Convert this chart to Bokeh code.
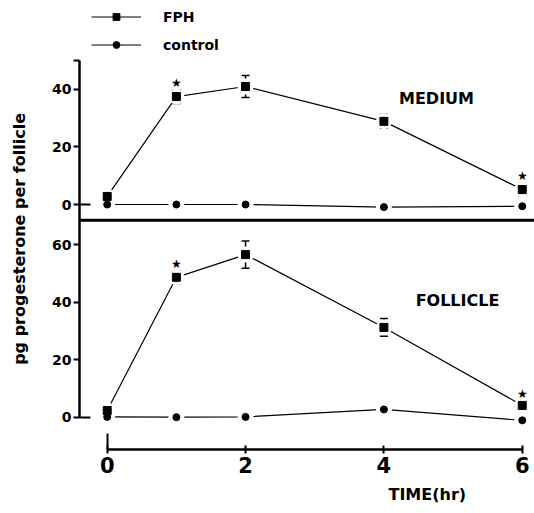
import numpy as np
from bokeh.plotting import figure
from bokeh.models import (Range1d, LinearAxis, FixedTicker, ColumnDataSource, Whisker,
                          TeeHead, Span, Label, Legend, LegendItem, Title)
from bokeh.core.properties import value
from bokeh.embed import file_html
from bokeh.resources import INLINE

# ---------------- data ----------------
hours = [0, 1, 2, 4, 6]
medium_fph = [2.8, 37.5, 41.0, 28.9, 5.2]
medium_fph_err = [0.0, 2.4, 3.8, 2.4, 2.2]
medium_control = [0.0, 0.0, 0.0, -0.9, -0.6]
follicle_fph = [2.4, 48.7, 56.6, 31.3, 4.2]
follicle_fph_err = [0.0, 2.2, 4.7, 3.1, 1.4]
follicle_control = [0.2, 0.1, 0.2, 2.8, -1.0]
significant = [False, True, False, False, True]

x_ticks = [0, 2, 4, 6]
follicle_ticks = [0, 20, 40, 60]
medium_ticks = [0, 20, 40]
medium_top = 50

# ---------------- layout constants ----------------
panel_gap = 74          # distance between the two panels' zero lines (data units)
divider = -5.5          # rule under the MEDIUM panel (MEDIUM units)
axis_top = 124.04       # top end of the vertical axis line (FOLLICLE units)
y_start, y_end = -11.12, 144.89
x_start, x_end = -0.4005, 6.177

FONT = "DejaVu Sans"
NBSP = "\u00a0"

p = figure(width=534, height=513, output_backend="svg", toolbar_location=None,
           x_range=Range1d(x_start, x_end), y_range=Range1d(y_start, y_end),
           x_axis_location=None, y_axis_location=None,
           min_border_left=79, min_border_right=0, min_border_top=0, min_border_bottom=64)
p.extra_y_ranges = {"top": Range1d(y_start - panel_gap, y_end - panel_gap)}
p.grid.visible = False
p.outline_line_color = None
p.background_fill_color = "white"
p.border_fill_color = "white"

# ---------------- axes ----------------
main_ticks = follicle_ticks + [t + panel_gap for t in medium_ticks] + [medium_top + panel_gap]
overrides = {}
for t in medium_ticks:
    overrides[t + panel_gap] = str(t)
overrides[medium_top + panel_gap] = ""

yaxis = LinearAxis(ticker=FixedTicker(ticks=main_ticks, minor_ticks=[0, panel_gap]),
                   bounds=(0, axis_top), major_label_overrides=overrides,
                   axis_label="pg progesterone per follicle" + NBSP * 5,
                   axis_label_standoff=20,
                   axis_label_text_font=FONT, axis_label_text_font_style="bold",
                   axis_label_text_font_size="16px", axis_label_text_color="black",
                   axis_line_width=2.5, axis_line_color="black",
                   major_tick_in=0, major_tick_out=6, major_tick_line_width=2,
                   minor_tick_in=11, minor_tick_out=0, minor_tick_line_width=2,
                   major_label_standoff=2,
                   major_label_text_font=FONT, major_label_text_font_style="bold",
                   major_label_text_font_size="14px", major_label_text_color="black")
p.add_layout(yaxis, "left")

xaxis = LinearAxis(ticker=FixedTicker(ticks=x_ticks, minor_ticks=[x_ticks[0]]),
                   bounds=(x_ticks[0], x_ticks[-1]),
                   axis_line_width=2.5, axis_line_color="black",
                   major_tick_in=4, major_tick_out=4, major_tick_line_width=2,
                   minor_tick_in=16, minor_tick_out=0, minor_tick_line_width=2,
                   major_label_standoff=3,
                   major_label_text_font=FONT, major_label_text_font_style="bold",
                   major_label_text_font_size="21px", major_label_text_color="black")
p.add_layout(xaxis, "below")

p.add_layout(Title(text="TIME(hr)", align="left", offset=309, standoff=14,
                   text_font=FONT, text_font_style="bold", text_font_size="16px",
                   text_color="black"), "below")

p.add_layout(Span(location=divider, dimension="width", y_range_name="top",
                  line_color="black", line_width=3))

# ---------------- data sources ----------------
def make_source(fph, err, ctl):
    fph = np.array(fph); err = np.array(err)
    return ColumnDataSource(dict(x=hours, fph=fph, ctl=ctl,
                                 upper=fph + err, lower=fph - err))

src_m = make_source(medium_fph, medium_fph_err, medium_control)
src_f = make_source(follicle_fph, follicle_fph_err, follicle_control)

panels = [(src_m, "top", medium_fph, medium_fph_err),
          (src_f, "default", follicle_fph, follicle_fph_err)]

legend_renderers = {}
for src, rng, _, _ in panels:
    l1 = p.line("x", "fph", source=src, y_range_name=rng, line_color="black", line_width=1.2)
    l2 = p.line("x", "ctl", source=src, y_range_name=rng, line_color="black", line_width=1.2)
    if rng == "top":
        legend_renderers["fph_line"] = l1
        legend_renderers["ctl_line"] = l2
# white halos open small gaps in the lines around markers
for src, rng, _, _ in panels:
    for col in ("fph", "ctl"):
        p.scatter("x", col, source=src, y_range_name=rng, size=16,
                  fill_color="white", line_color=None)
for src, rng, _, _ in panels:
    s1 = p.scatter("x", "fph", source=src, y_range_name=rng, marker="square", size=8,
                   fill_color="black", line_color="black")
    s2 = p.scatter("x", "ctl", source=src, y_range_name=rng, marker="circle", size=7,
                   fill_color="black", line_color="black")
    if rng == "top":
        legend_renderers["fph_pt"] = s1
        legend_renderers["ctl_pt"] = s2
for src, rng, _, _ in panels:
    w = Whisker(base="x", upper="upper", lower="lower", source=src, y_range_name=rng,
                line_color="black", line_width=1.5,
                upper_head=TeeHead(size=8, line_width=1.5, line_color="black"),
                lower_head=TeeHead(size=8, line_width=1.5, line_color="black"))
    p.add_layout(w)
for src, rng, fph, err in panels:
    sig = np.array(significant)
    top_of_bar = (np.array(fph) + np.array(err))[sig]
    star_src = ColumnDataSource(dict(x=np.array(hours)[sig], y=top_of_bar))
    p.text("x", "y", source=star_src, y_range_name=rng, text=value("\u2605"),
           y_offset=-7, text_align="center", text_baseline="middle",
           text_font=value(FONT), text_font_size="12px", text_color="black")

# ---------------- legend ----------------
legend = Legend(items=[
    LegendItem(label="FPH", renderers=[legend_renderers["fph_line"], legend_renderers["fph_pt"]]),
    LegendItem(label="control", renderers=[legend_renderers["ctl_line"], legend_renderers["ctl_pt"]]),
], location=(12, 396), orientation="vertical", padding=0, margin=0, spacing=11,
    glyph_width=50, glyph_height=17, label_height=17, label_standoff=22,
    border_line_color=None, background_fill_alpha=0,
    label_text_font=FONT, label_text_font_style="bold", label_text_font_size="14px",
    label_text_color="black")
p.add_layout(legend)

# ---------------- panel names ----------------
def add_label(text, x, y, size):
    p.add_layout(Label(x=x, y=y, x_units="screen", y_units="screen", text=text,
                       text_align="center", text_baseline="middle",
                       text_font=FONT, text_font_style="bold", text_font_size=size,
                       text_color="black"))

add_label("MEDIUM", 357, 351, "16px")
add_label("FOLLICLE", 378, 149, "16px")

open("out.html", "w").write(file_html(p, INLINE))
